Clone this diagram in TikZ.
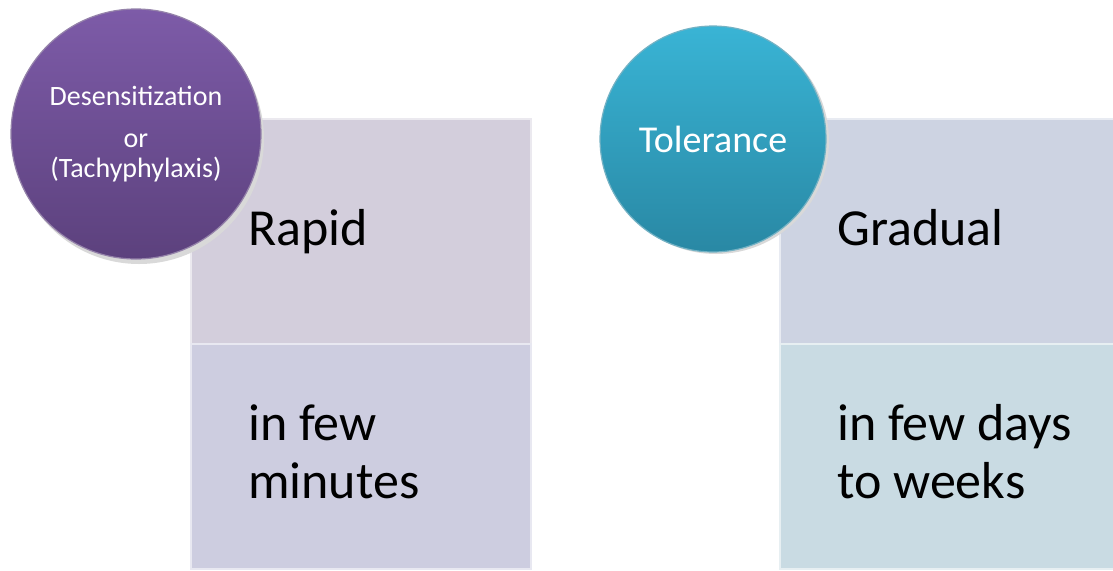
\documentclass[tikz,border=0pt]{standalone}
\usepackage{fontspec}
\setmainfont{Carlito}
\usepackage{xcolor}
\usepackage{tikz}
\usetikzlibrary{positioning}

\definecolor{purpletop}{HTML}{7D5BA8}
\definecolor{purplebot}{HTML}{5C417D}
\definecolor{tealtop}{HTML}{39B4D5}
\definecolor{tealbot}{HTML}{2988A4}
\definecolor{lavbox}{HTML}{D3CEDC}
\definecolor{bluebox}{HTML}{CDCDE0}
\definecolor{greybox}{HTML}{CDD3E2}
\definecolor{icebox}{HTML}{C9DBE3}

\begin{document}
\begin{tikzpicture}[x=1pt, y=-1pt,
    panel/.style={draw=white!55!#1, line width=1.6pt, fill=#1, rectangle, inner sep=0pt,
        minimum width=340pt, minimum height=225pt, anchor=north west},
    badge/.style={circle, inner sep=0pt, draw=white!35!#1, line width=1.2pt, text=white, align=center},
    bigtext/.style={anchor=base west, align=left, inner sep=0pt, font=\fontsize{52}{58}\selectfont}
  ]
    \useasboundingbox (0,0) rectangle (1113,570);
    \fill[white] (0,0) rectangle (1113,570);

    % Left group - boxes
    \node[panel=lavbox] (rapidbox) at (190,118) {};
    \node[panel=bluebox] (minbox) at (190,343) {};
    \node[bigtext] (rapid) at (248,245) {Rapid};
    \node[bigtext] (minutes) at (248,498) {in few\\minutes};

    % Left group - circle
    \fill[black!15] (139,139) circle (125pt);
    \node[badge=purplebot, minimum size=250pt, top color=purpletop, bottom color=purplebot,
        font=\fontsize{28}{30}\selectfont] (desens) at (136,134)
        {Desensitization\\[12pt]or\\(Tachyphylaxis)};

    % Right group - boxes
    \node[panel=greybox] (gradbox) at (779,118) {};
    \node[panel=icebox] (daysbox) at (779,343) {};
    \node[bigtext] (gradual) at (837,245) {Gradual};
    \node[bigtext] (days) at (837,498) {in few days\\to weeks};

    % Right group - circle
    \fill[black!15] (716,141) circle (113pt);
    \node[badge=tealbot, minimum size=226pt, top color=tealtop, bottom color=tealbot,
        font=\fontsize{38}{44}\selectfont] (toler) at (713,139) {Tolerance};
\end{tikzpicture}
\end{document}
